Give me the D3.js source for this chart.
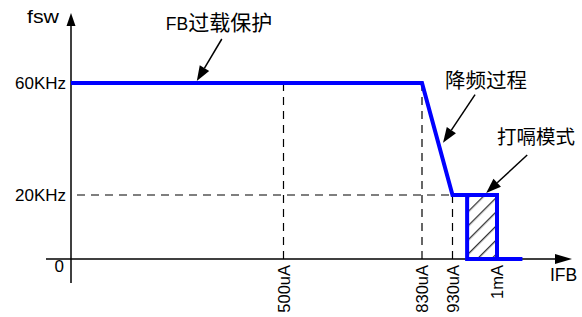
<!DOCTYPE html>
<html>
<head>
<meta charset="utf-8">
<script src="https://cdn.jsdelivr.net/npm/d3@7"></script>
<style>
  body { margin: 0; background: #fff; }
  svg text { font-family: "Liberation Sans", Arial, sans-serif; }
  .cjk { font-family: "Noto Sans CJK SC", sans-serif; }
</style>
</head>
<body>
<div></div>
<script>
// chart data (uA on x, kHz on y)
const xTicks = [500, 830, 930, 1000];
const xTickLabels = ["500uA", "830uA", "930uA", "1mA"];
const yTicks = [0, 20, 60];
const yTickLabels = ["0", "20KHz", "60KHz"];
const curveI = [0, 830, 930, 1000, 1000, 1040];
const curveF = [60, 60, 20, 20, 0, 0];
const burstI = [953, 1000];
const burstF = 20;
const notes = ["FB过载保护", "降频过程", "打嗝模式"];
const noteI = [296, 899, 983];
const noteF = [60, 38.7, 20];

const svg = d3.select("div")
    .append("svg")
    .attr("width", 582)
    .attr("height", 317);

// schematic axes: piecewise scales
const x = d3.scaleLinear()
    .domain([0, 500, 830, 930, 1000])
    .range([71, 283.5, 422, 452.5, 497]);
const y = d3.scaleLinear()
    .domain([0, 20, 60])
    .range([259, 195, 83]);

const defs = svg.append("defs");
const pat = defs.append("pattern")
    .attr("id", "hatch")
    .attr("patternUnits", "userSpaceOnUse")
    .attr("width", 10)
    .attr("height", 10)
    .attr("patternTransform", "rotate(45)");
pat.append("rect").attr("width", 10).attr("height", 10).attr("fill", "#fff");
pat.append("line")
    .attr("x1", 0).attr("y1", 0).attr("x2", 0).attr("y2", 10)
    .attr("stroke", "#333")
    .attr("stroke-width", 2.6);

// dashed guides
const dash = "8,6";
svg.append("line")
    .attr("x1", x(0) + 6).attr("x2", x(930))
    .attr("y1", y(20)).attr("y2", y(20))
    .attr("stroke", "#000").attr("stroke-width", 1.2)
    .attr("stroke-dasharray", dash);
[[500, 60], [830, 60], [930, 20]].forEach(d => {
    svg.append("line")
        .attr("x1", x(d[0])).attr("x2", x(d[0]))
        .attr("y1", y(d[1])).attr("y2", y(0))
        .attr("stroke", "#000").attr("stroke-width", 1.2)
        .attr("stroke-dasharray", dash);
});

// axes
svg.append("line")
    .attr("x1", 46).attr("x2", 560)
    .attr("y1", y(0)).attr("y2", y(0))
    .attr("stroke", "#000").attr("stroke-width", 1.5);
svg.append("path")
    .attr("d", `M572,${y(0)} L555,${y(0) - 5} L555,${y(0) + 5} Z`)
    .attr("fill", "#000");
svg.append("line")
    .attr("x1", x(0)).attr("x2", x(0))
    .attr("y1", 283).attr("y2", 22)
    .attr("stroke", "#000").attr("stroke-width", 1.5);
svg.append("path")
    .attr("d", `M${x(0)},13 L${x(0) - 4.5},26 L${x(0) + 4.5},26 Z`)
    .attr("fill", "#000");

// hiccup region
svg.append("rect")
    .attr("x", x(burstI[0]))
    .attr("y", y(burstF))
    .attr("width", x(burstI[1]) - x(burstI[0]))
    .attr("height", y(0) - y(burstF))
    .attr("fill", "url(#hatch)")
    .attr("stroke", "#0000ff")
    .attr("stroke-width", 4);

// fsw curve
const line = d3.line()
    .x((d, i) => x(curveI[i]))
    .y(d => y(d));
svg.append("path")
    .datum(curveF)
    .attr("d", line)
    .attr("fill", "none")
    .attr("stroke", "#0000ff")
    .attr("stroke-width", 4)
    .attr("stroke-linejoin", "miter");

// tick labels
yTicks.forEach((t, i) => {
    svg.append("text")
        .attr("x", t === 0 ? 64 : 66)
        .attr("y", t === 0 ? 272 : y(t) + 6)
        .attr("text-anchor", "end")
        .attr("font-size", 17)
        .text(yTickLabels[i]);
});
xTicks.forEach((t, i) => {
    svg.append("text")
        .attr("transform", `translate(${x(t) + 6},265) rotate(-90)`)
        .attr("text-anchor", "end")
        .attr("font-size", 16.5)
        .text(xTickLabels[i]);
});

// axis names
svg.append("text")
    .attr("x", 27).attr("y", 23)
    .attr("font-size", 18)
    .attr("textLength", 32)
    .attr("lengthAdjust", "spacingAndGlyphs")
    .text("fsw");
svg.append("text")
    .attr("x", 550).attr("y", 281)
    .attr("font-size", 17.5)
    .text("IFB");

// annotations
const tails = [[25, -42], [32, -48], [41, -38]];
const tipGap = [2, 0, 2];
const labelPos = [[219, 30, 21], [486, 88, 20.5], [536, 144, 19.5]];
notes.forEach((n, i) => {
    const tx = x(noteI[i]);
    const ty = y(noteF[i]) - tipGap[i];
    const sx = tx + tails[i][0];
    const sy = ty + tails[i][1];
    const ang = Math.atan2(ty - sy, tx - sx);
    const L = 15, W = 5.5;
    const bx = tx - L * Math.cos(ang), by = ty - L * Math.sin(ang);
    svg.append("line")
        .attr("x1", sx).attr("y1", sy)
        .attr("x2", bx).attr("y2", by)
        .attr("stroke", "#000").attr("stroke-width", 1.5);
    svg.append("path")
        .attr("d", `M${tx},${ty} L${bx + W * Math.sin(ang)},${by - W * Math.cos(ang)} L${bx - W * Math.sin(ang)},${by + W * Math.cos(ang)} Z`)
        .attr("fill", "#000");

    const t = svg.append("text")
        .attr("x", labelPos[i][0])
        .attr("y", labelPos[i][1])
        .attr("text-anchor", "middle");
    if (n.startsWith("FB")) {
        t.append("tspan").attr("font-size", 17.5).text("FB");
        t.append("tspan").attr("class", "cjk").attr("font-size", labelPos[i][2]).text(n.slice(2));
    } else {
        t.append("tspan").attr("class", "cjk").attr("font-size", labelPos[i][2]).text(n);
    }
});
</script>
</body>
</html>
